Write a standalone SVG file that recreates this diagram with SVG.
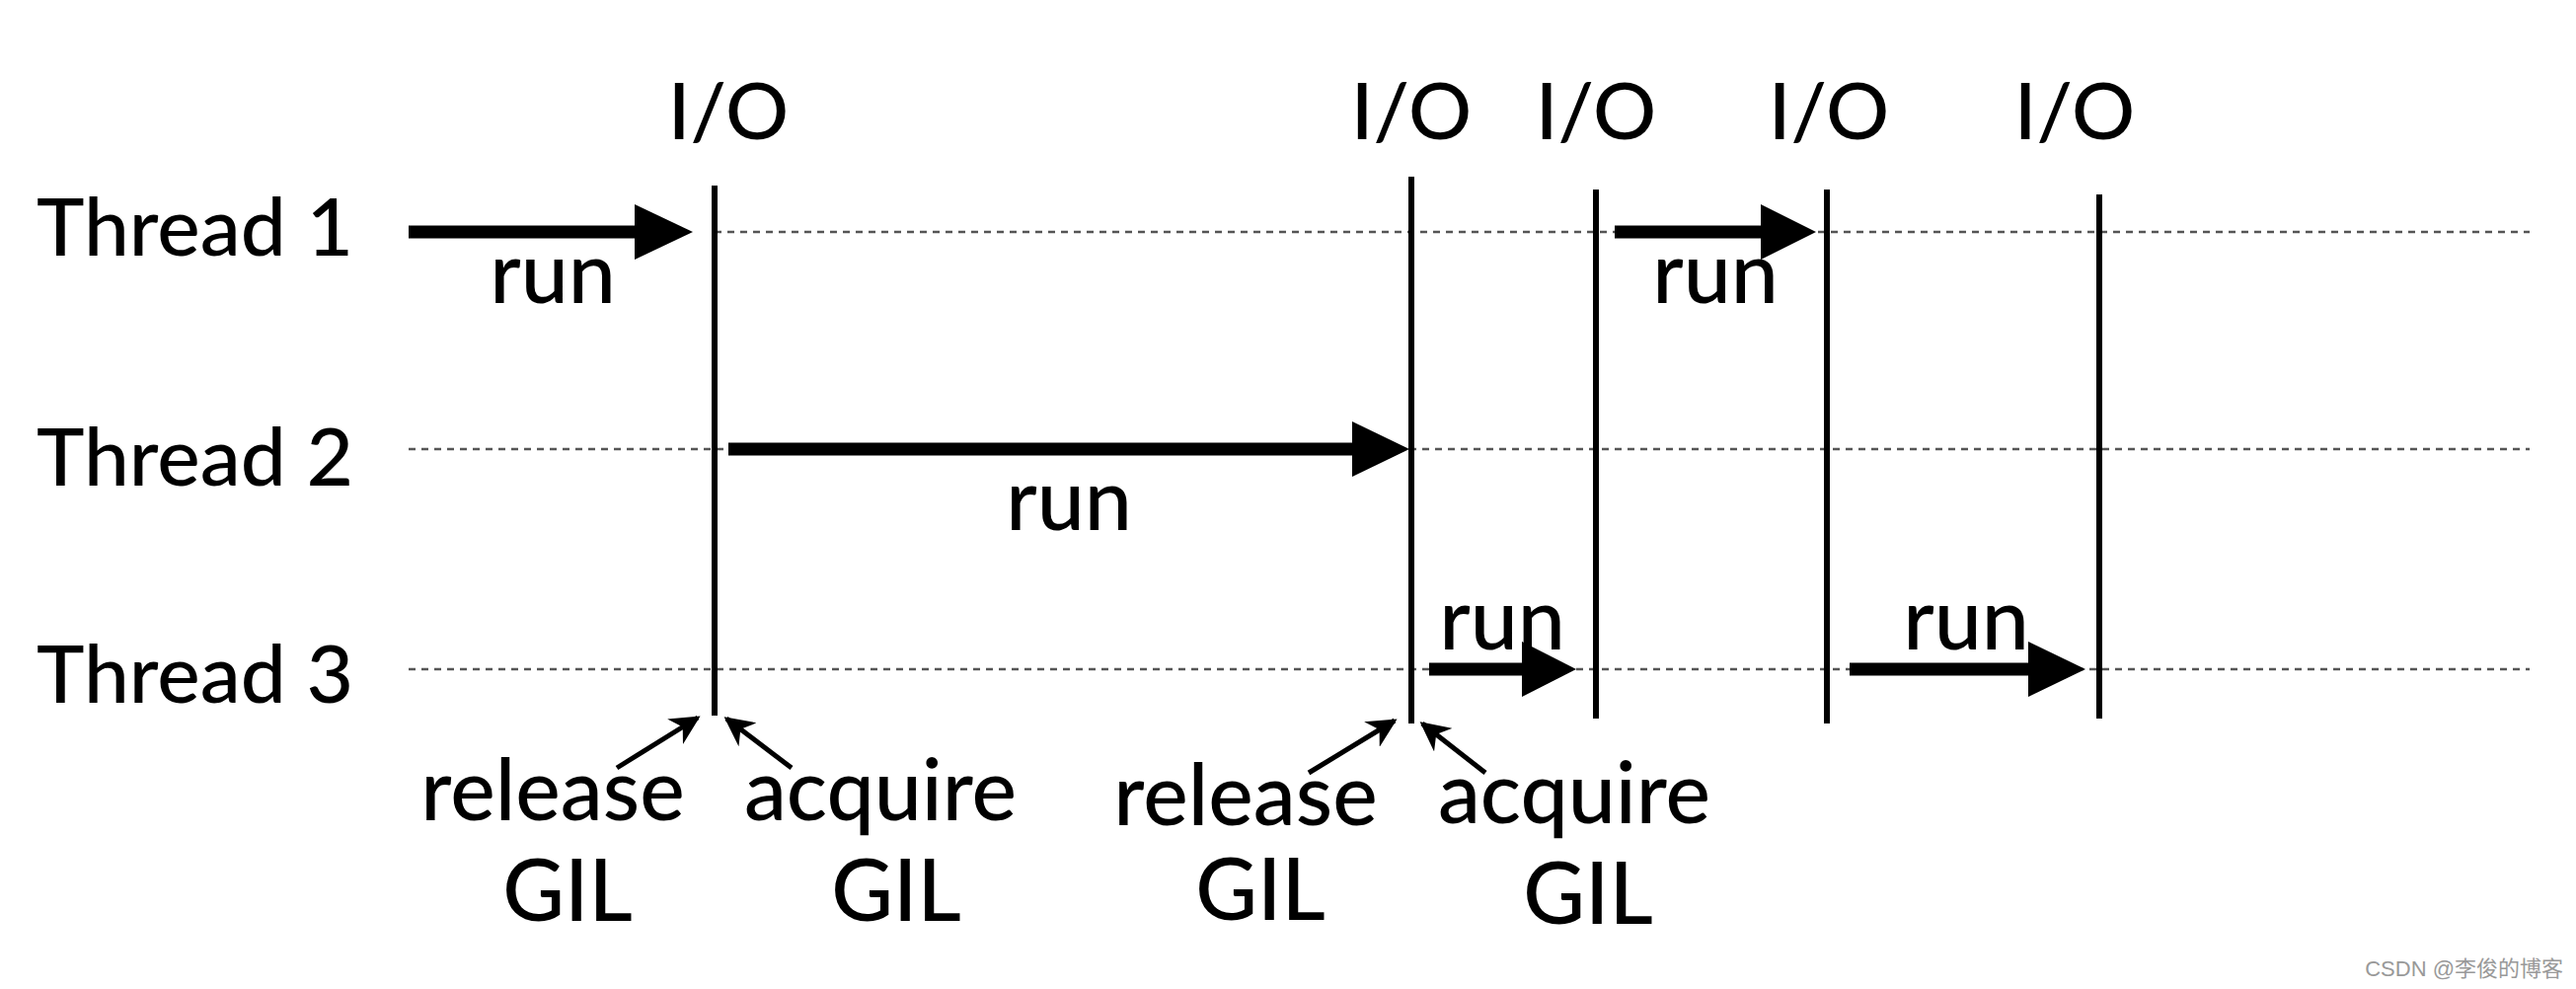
<svg xmlns="http://www.w3.org/2000/svg" width="2610" height="1002" viewBox="0 0 2610 1002">
<style>
text{font-family:Lato,"Liberation Sans",sans-serif;fill:#000;font-weight:500}
.lbl{font-size:82px}
.run{font-size:86px;text-anchor:middle}
.io{font-size:80px;text-anchor:middle}
.dot{stroke:#555;stroke-width:2.5;stroke-dasharray:7 6;fill:none}
.v{stroke:#000;stroke-width:6;fill:none}
.sh{stroke:#000;stroke-width:13;fill:none}
.sm{stroke:#000;stroke-width:5;fill:none;marker-end:url(#m)}
</style>
<defs>
<marker id="m" viewBox="0 0 10 10" refX="9" refY="5" markerWidth="6" markerHeight="6" markerUnits="strokeWidth" orient="auto"><path d="M0,0 L10,5 L0,10 L3,5 Z" fill="#000"/></marker>
</defs>
<rect width="2610" height="1002" fill="#fff"/>
<g id="labels">
<text class="lbl" x="37" y="259">Thread 1</text>
<text class="lbl" x="37" y="492">Thread 2</text>
<text class="lbl" x="37" y="712">Thread 3</text>
<text class="io" x="738" y="141">I/O</text>
<text class="io" x="1430" y="141">I/O</text>
<text class="io" x="1617" y="141">I/O</text>
<text class="io" x="1853" y="141">I/O</text>
<text class="io" x="2102" y="141">I/O</text>
</g>
<g id="connectors">
<line class="dot" x1="724" y1="235" x2="2563" y2="235"/>
<line class="dot" x1="414" y1="455" x2="2563" y2="455"/>
<line class="dot" x1="414" y1="678" x2="2563" y2="678"/>
<line class="v" x1="724" y1="188" x2="724" y2="725"/>
<line class="v" x1="1430" y1="179" x2="1430" y2="733"/>
<line class="v" x1="1617" y1="192" x2="1617" y2="728"/>
<line class="v" x1="1851" y1="192" x2="1851" y2="733"/>
<line class="v" x1="2127" y1="197" x2="2127" y2="728"/>
<line class="sh" x1="414" y1="235" x2="650" y2="235"/><polygon points="643,207 702,235 643,263"/>
<line class="sh" x1="738" y1="455" x2="1375" y2="455"/><polygon points="1370,427 1428,455 1370,483"/>
<line class="sh" x1="1636" y1="235" x2="1790" y2="235"/><polygon points="1784,207 1840,235 1784,263"/>
<line class="sh" x1="1448" y1="678" x2="1548" y2="678"/><polygon points="1542,650 1597,678 1542,706"/>
<line class="sh" x1="1874" y1="678" x2="2060" y2="678"/><polygon points="2055,650 2113,678 2055,706"/>
<line class="sm" x1="625" y1="778" x2="707" y2="727"/>
<line class="sm" x1="802" y1="778" x2="736" y2="728"/>
<line class="sm" x1="1326" y1="783" x2="1413" y2="730"/>
<line class="sm" x1="1505" y1="783" x2="1441" y2="733"/>
</g>
<g id="runs">
<text class="run" x="560" y="307">run</text>
<text class="run" x="1083" y="537">run</text>
<text class="run" x="1738" y="307">run</text>
<text class="run" x="1522" y="658">run</text>
<text class="run" x="1992" y="658">run</text>
</g>
<g id="gil">
<text class="run" x="560" y="831">release</text>
<text class="run" x="575" y="933">GIL</text>
<text class="run" x="892" y="831">acquire</text>
<text class="run" x="908" y="933">GIL</text>
<text class="run" x="1262" y="836">release</text>
<text class="run" x="1277" y="932">GIL</text>
<text class="run" x="1595" y="834">acquire</text>
<text class="run" x="1609" y="936">GIL</text>
</g>
<text x="2597" y="989" text-anchor="end" style="font-size:22px;fill:#999;font-weight:400;font-family:'Liberation Sans','Noto Sans CJK SC',sans-serif">CSDN @李俊的博客</text>
</svg>
